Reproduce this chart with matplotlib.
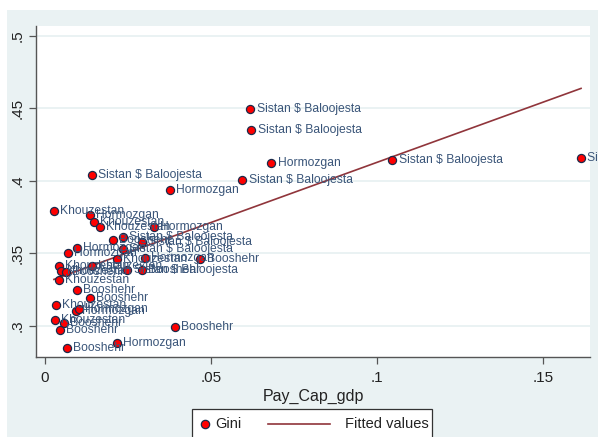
import numpy as np
import matplotlib
matplotlib.use("Agg")
import matplotlib.pyplot as plt
from matplotlib.patches import Rectangle
from matplotlib.lines import Line2D

plt.rcParams['font.family'] = ['Liberation Sans', 'DejaVu Sans']

# Province-year observations: payment per capita share of GDP vs Gini
region = [
    "Sistan $ Baloojesta", "Sistan $ Baloojesta", "Sistan $ Baloojesta", "Sistan $ Baloojesta",
    "Sistan $ Baloojesta", "Sistan $ Baloojesta", "Sistan $ Baloojesta", "Sistan $ Baloojesta",
    "Sistan $ Baloojesta", "Sistan $ Baloojesta",
    "Hormozgan", "Hormozgan", "Hormozgan", "Hormozgan", "Hormozgan",
    "Hormozgan", "Hormozgan", "Hormozgan", "Hormozgan", "Hormozgan",
    "Khouzestan", "Khouzestan", "Khouzestan", "Khouzestan", "Khouzestan",
    "Khouzestan", "Khouzestan", "Khouzestan", "Khouzestan", "Khouzestan",
    "Booshehr", "Booshehr", "Booshehr", "Booshehr", "Booshehr",
    "Booshehr", "Booshehr", "Booshehr", "Booshehr", "Booshehr",
]
pay_cap_gdp = [
    0.0619, 0.0622, 0.1047, 0.1615, 0.0142, 0.0595, 0.0293, 0.0235, 0.0248, 0.0235,
    0.0682, 0.0377, 0.0136, 0.0329, 0.0097, 0.0069, 0.0302, 0.0094, 0.0103, 0.0217,
    0.0027, 0.0148, 0.0166, 0.0217, 0.0042, 0.0048, 0.0142, 0.0042, 0.0033, 0.0030,
    0.0205, 0.0468, 0.0293, 0.0063, 0.0097, 0.0136, 0.0057, 0.0045, 0.0392, 0.0066,
]
gini = [
    0.4497, 0.4352, 0.4145, 0.4159, 0.4041, 0.4007, 0.3579, 0.3531, 0.3386, 0.3614,
    0.4124, 0.3938, 0.3766, 0.3683, 0.3538, 0.3503, 0.3469, 0.3103, 0.3117, 0.2883,
    0.3793, 0.3717, 0.3683, 0.3462, 0.3414, 0.3379, 0.3414, 0.3317, 0.3145, 0.3041,
    0.3593, 0.3462, 0.3386, 0.3372, 0.3248, 0.3193, 0.3021, 0.2972, 0.2993, 0.2848,
]

x_ticks = [0, 0.05, 0.1, 0.15]
x_tick_labels = ["0", ".05", ".1", ".15"]
y_ticks = [0.3, 0.35, 0.4, 0.45, 0.5]
y_tick_labels = [".3", ".35", ".4", ".45", ".5"]
legend_labels = ["Gini", "Fitted values"]

x = np.array(pay_cap_gdp)
y = np.array(gini)
slope, intercept = np.polyfit(x, y, 1)
fit_x = np.array([x.min(), x.max()])
fit_y = intercept + slope * fit_x

W, H = 598, 437
fig = plt.figure(figsize=(W / 100, H / 100), dpi=100)
fig.patch.set_facecolor("white")
bg = "#eaf2f3"
dot_face, dot_edge = "#ff0000", "#1a2a4a"
fit_color = "#90353b"
label_color = "#3a5579"
text_color = "#222222"


def px(xp, yp):
    """Pixel position (from top-left) to figure fraction."""
    return xp / W, 1 - yp / H


fig.patches.append(Rectangle(px(7, H), 1 - 7 / W, 1 - 10 / H, transform=fig.transFigure,
                             facecolor=bg, edgecolor="none", zorder=-10))

ax = fig.add_axes([36 / W, (H - 357) / H, (590 - 36) / W, (357 - 26) / H])
ax.set_facecolor("white")
ax.set_xlim(-0.0027, 0.1642)
ax.set_ylim(0.2786, 0.5069)

for t in y_ticks:
    ax.axhline(t, color=bg, lw=1.4, zorder=0)

ax.plot(fit_x, fit_y, color=fit_color, lw=1.2, zorder=2)
ax.scatter(x, y, s=34, facecolor=dot_face, edgecolor=dot_edge, linewidth=0.9, zorder=3)

for xi, yi, name in zip(x, y, region):
    ax.annotate(name, (xi, yi), xytext=(4.5, 0), textcoords="offset points",
                ha="left", va="center", fontsize=8.7, color=label_color,
                annotation_clip=False, zorder=4)

for side in ("top", "right"):
    ax.spines[side].set_visible(False)
for side in ("left", "bottom"):
    ax.spines[side].set_color("#555555")
    ax.spines[side].set_linewidth(1.0)

ax.set_xticks(x_ticks)
ax.set_xticklabels(x_tick_labels, fontsize=11, color=text_color)
ax.set_yticks(y_ticks)
ax.set_yticklabels(y_tick_labels, fontsize=11, color=text_color, rotation=90, va="center")
ax.tick_params(axis="x", direction="out", length=5, width=0.9, color="#555555", pad=5)
ax.tick_params(axis="y", direction="out", length=5, width=0.9, color="#555555", pad=3)
ax.set_xlabel("Pay_Cap_gdp", fontsize=11.5, color=text_color, labelpad=3)

# Legend box (runs past the lower edge of the canvas)
lx0, ly0 = px(192, 445)
fig.patches.append(Rectangle((lx0, ly0), (432 - 192) / W, (445 - 409) / H,
                             transform=fig.transFigure, facecolor="white",
                             edgecolor="#333333", linewidth=0.9, zorder=5))
mx, my = px(205, 424)
fig.lines.append(Line2D([mx], [my], marker="o", markersize=6, markerfacecolor=dot_face,
                        markeredgecolor=dot_edge, markeredgewidth=0.9, linestyle="none",
                        transform=fig.transFigure, zorder=6))
fig.text(*px(215, 424), legend_labels[0], fontsize=10.5, color=text_color,
         ha="left", va="center", zorder=6)
(l0x, l0y), (l1x, _) = px(268, 424), px(330, 424)
fig.lines.append(Line2D([l0x, l1x], [l0y, l0y], color=fit_color, lw=1.2,
                        transform=fig.transFigure, zorder=6))
fig.text(*px(345, 424), legend_labels[1], fontsize=10.5, color=text_color,
         ha="left", va="center", zorder=6)

fig.savefig("out.png", dpi=100, facecolor=fig.get_facecolor())
